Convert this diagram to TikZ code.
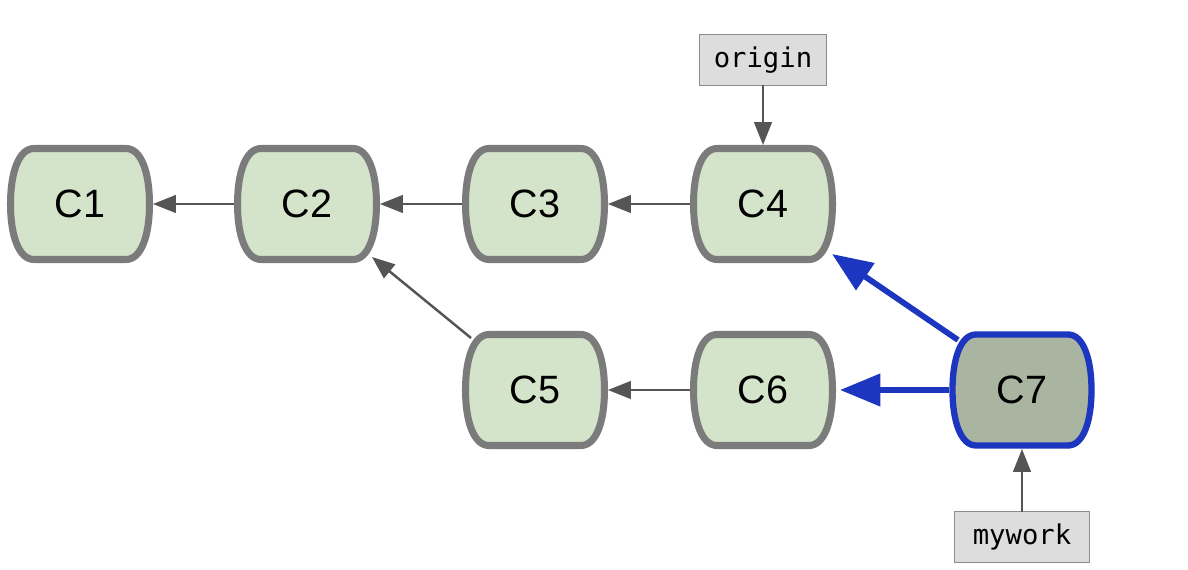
\documentclass[tikz,border=0pt]{standalone}
\usepackage{fontspec}
\setmainfont{Liberation Sans}
\newfontfamily\labelmono{DejaVu Sans Mono}
\usetikzlibrary{arrows.meta,backgrounds}
\definecolor{cfill}{HTML}{D4E4CA}
\definecolor{cline}{HTML}{7B7B7B}
\definecolor{hfill}{HTML}{A9B5A1}
\definecolor{hblue}{HTML}{1C36C0}
\definecolor{lfill}{HTML}{DCDDDC}
\definecolor{lline}{HTML}{8C8C8C}
\definecolor{agray}{HTML}{555555}
\tikzset{
  commit/.style={minimum width=2.92cm, minimum height=2.36cm, inner sep=0pt, outer sep=0pt,
    font=\fontsize{22.5}{26}\selectfont},
  reflabel/.style={draw=lline, fill=lfill, line width=1.1pt, minimum width=2.54cm, minimum height=1.02cm,
    inner sep=0pt, outer sep=0pt, font=\labelmono\fontsize{15.5}{18}\selectfont},
  garrow/.style={draw=agray, line width=1.4pt, -{Triangle[length=13pt,width=10pt]}},
  barrow/.style={draw=hblue, line width=3.3pt, -{Triangle[length=23pt,width=18pt]}},
  cshape/.style={draw=cline, fill=cfill, line width=4pt},
  hshape/.style={draw=hblue, fill=hfill, line width=3.6pt},
}
\newcommand{\commitoutline}{(-46,-55.5) -- (46,-55.5) .. controls (61,-55.5) and (69.5,-32) .. (69.5,0)
  .. controls (69.5,32) and (61,55.5) .. (46,55.5) -- (-46,55.5)
  .. controls (-61,55.5) and (-69.5,32) .. (-69.5,0)
  .. controls (-69.5,-32) and (-61,-55.5) .. cycle}
\begin{document}
\begin{tikzpicture}[x=0.02cm, y=-0.02cm]
\useasboundingbox (0,0) rectangle (1188,570);

\node[commit] (c1) at (80,204) {C1};
\node[commit] (c2) at (307,204) {C2};
\node[commit] (c3) at (535,204) {C3};
\node[commit] (c4) at (763,204) {C4};
\node[commit] (c5) at (535,390) {C5};
\node[commit] (c6) at (763,390) {C6};
\node[commit] (c7) at (1022,390) {C7};

\node[reflabel] (origin) at (763,60) {origin};
\node[reflabel, minimum width=2.7cm] (mywork) at (1022,537) {mywork};

\begin{scope}[on background layer]
  \foreach \n in {c1,c2,c3,c4,c5,c6}{
    \begin{scope}[shift={(\n.center)}]
      \path[cshape] \commitoutline;
    \end{scope}
  }
  \begin{scope}[shift={(c7.center)}]
    \path[hshape] \commitoutline;
  \end{scope}
\end{scope}

\draw[garrow] (c2.west) -- (c1.east);
\draw[garrow] (c3.west) -- (c2.east);
\draw[garrow] (c4.west) -- (c3.east);
\draw[garrow] (c6.west) -- (c5.east);
\draw[garrow] ([shift={(9,7)}]c5.north west) -- ([shift={(-8,-6)}]c2.south east);
\draw[garrow] (origin.south) -- (c4.north);
\draw[garrow] (mywork.north) -- (c7.south);

\draw[barrow, shorten >=2.3pt] (c7.west) -- (c6.east);
\draw[barrow] ([shift={(9,9)}]c7.north west) -- ([shift={(-4,-9)}]c4.south east);
\end{tikzpicture}
\end{document}
